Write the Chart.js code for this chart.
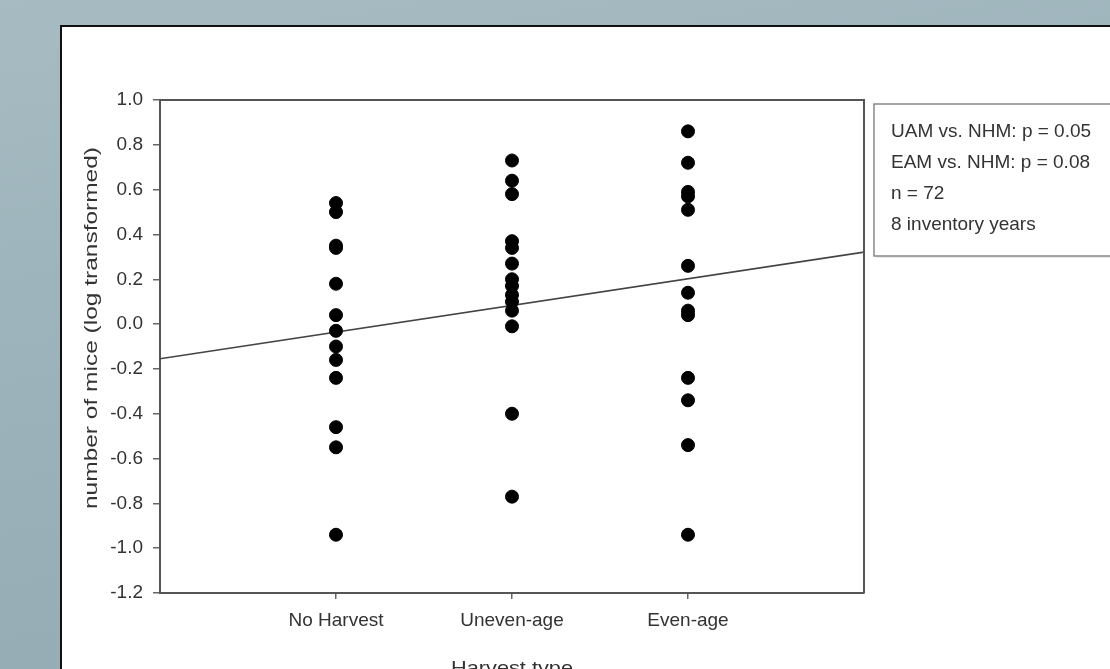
<!DOCTYPE html>
<html>
<head>
<meta charset="utf-8">
<script src="https://cdn.jsdelivr.net/npm/chart.js@4/dist/chart.umd.min.js"></script>
<style>
  html, body { margin: 0; padding: 0; width: 1110px; height: 669px; overflow: hidden; }
  body { background: linear-gradient(170deg, #a6bbc2 0%, #9cb2ba 45%, #93aab2 100%); position: relative; }
  #panel { position: absolute; left: 60px; top: 25px; right: -10px; bottom: -10px;
           background: #fff; border-left: 2px solid #111; border-top: 2px solid #111; }
  #chart { position: absolute; left: 0; top: 0; }
</style>
</head>
<body>
<div id="panel"></div>
<canvas id="chart" width="1110" height="669"></canvas>
<script>
// Harvest treatments on the x axis (positions 1, 2, 3)
const categories = ['No Harvest', 'Uneven-age', 'Even-age'];

// Mouse counts per plot-year, log transformed
const noHarvest = [0.54, 0.50, 0.35, 0.34, 0.18, 0.04, -0.03, -0.10, -0.16, -0.24, -0.46, -0.55, -0.94];
const unevenAge = [0.73, 0.64, 0.58, 0.37, 0.34, 0.27, 0.20, 0.17, 0.13, 0.10, 0.06, -0.01, -0.40, -0.77];
const evenAge = [0.86, 0.72, 0.59, 0.57, 0.51, 0.26, 0.14, 0.06, 0.04, -0.24, -0.34, -0.54, -0.94];

// Fitted regression line across the axis range
const fitX = [0, 4];
const fitY = [-0.155, 0.321];

// Axis ranges and titles
const xRange = [0, 4];
const yRange = [-1.2, 1.0];
const yStep = 0.2;
const xTitle = 'Harvest type';
const yTitle = 'number of mice (log transformed)';

// Statistics box
const notes = ['UAM vs. NHM: p = 0.05', 'EAM vs. NHM: p = 0.08', 'n = 72', '8 inventory years'];

const FONT = "'Liberation Sans', Arial, sans-serif";
const TEXT = '#333';

const groups = [noHarvest, unevenAge, evenAge];
const points = [];
groups.forEach((vals, i) => vals.forEach(v => points.push({ x: i + 1, y: v })));

// draws text stretched along its baseline to a given length
function stretchedText(ctx, text, x, y, length) {
  const w = ctx.measureText(text).width;
  ctx.save();
  ctx.translate(x, y);
  ctx.scale(length / w, 1);
  ctx.fillText(text, 0, 0);
  ctx.restore();
}

const decorations = {
  id: 'decorations',
  afterDraw(chart) {
    const { ctx, chartArea: a } = chart;
    ctx.save();
    // frame top and right edges
    ctx.strokeStyle = '#555';
    ctx.lineWidth = 2;
    ctx.beginPath();
    ctx.moveTo(a.left, a.top);
    ctx.lineTo(a.right, a.top);
    ctx.lineTo(a.right, a.bottom);
    ctx.stroke();

    // axis titles
    ctx.fillStyle = TEXT;
    ctx.font = '19px ' + FONT;
    ctx.textAlign = 'center';
    ctx.textBaseline = 'alphabetic';
    stretchedText(ctx, xTitle, (a.left + a.right) / 2, 674, 122);
    ctx.save();
    ctx.translate(97, 328);
    ctx.rotate(-Math.PI / 2);
    ctx.font = '18px ' + FONT;
    stretchedText(ctx, yTitle, 0, 0, 362);
    ctx.restore();

    // statistics box
    const bx = 874, by = 104, bw = 260, bh = 152;
    ctx.fillStyle = 'rgba(0,0,0,0.08)';
    ctx.fillRect(bx + 2, by + 2, bw, bh);
    ctx.fillStyle = '#fff';
    ctx.fillRect(bx, by, bw, bh);
    ctx.strokeStyle = '#888';
    ctx.lineWidth = 1.5;
    ctx.strokeRect(bx, by, bw, bh);
    ctx.fillStyle = TEXT;
    ctx.font = '19px ' + FONT;
    ctx.textAlign = 'left';
    ctx.textBaseline = 'middle';
    notes.forEach((t, i) => ctx.fillText(t, 891, 132 + i * 31));
    ctx.restore();
  }
};

new Chart(document.getElementById('chart'), {
  type: 'scatter',
  data: {
    datasets: [
      {
        type: 'line',
        data: fitX.map((x, i) => ({ x, y: fitY[i] })),
        borderColor: '#444',
        borderWidth: 1.6,
        pointRadius: 0,
        fill: false,
        order: 2
      },
      {
        data: points,
        backgroundColor: '#000',
        borderColor: '#000',
        pointRadius: 6.5,
        pointHoverRadius: 6.5,
        order: 1
      }
    ]
  },
  plugins: [decorations],
  options: {
    responsive: false,
    animation: false,
    devicePixelRatio: 1,
    layout: { padding: { left: 60, right: 246, top: 100, bottom: 0 } },
    plugins: { legend: { display: false }, tooltip: { enabled: false } },
    scales: {
      x: {
        type: 'linear',
        min: xRange[0],
        max: xRange[1],
        afterBuildTicks: s => { s.ticks = categories.map((c, i) => ({ value: i + 1 })); },
        afterFit: s => { s.height = 76; },
        ticks: {
          callback: v => categories[v - 1] || '',
          color: TEXT,
          font: { family: FONT, size: 19 },
          padding: 10,
          maxRotation: 0
        },
        grid: { drawOnChartArea: false, tickLength: 6, color: '#666', lineWidth: 1.5 },
        border: { color: '#555', width: 2 }
      },
      y: {
        min: yRange[0],
        max: yRange[1],
        afterFit: s => { s.width = 100; },
        ticks: {
          stepSize: yStep,
          callback: v => Number(v).toFixed(1),
          color: TEXT,
          font: { family: FONT, size: 19 },
          padding: 10
        },
        grid: { drawOnChartArea: false, tickLength: 7, color: '#666', lineWidth: 1.5 },
        border: { color: '#555', width: 2 }
      }
    }
  }
});
</script>
</body>
</html>
